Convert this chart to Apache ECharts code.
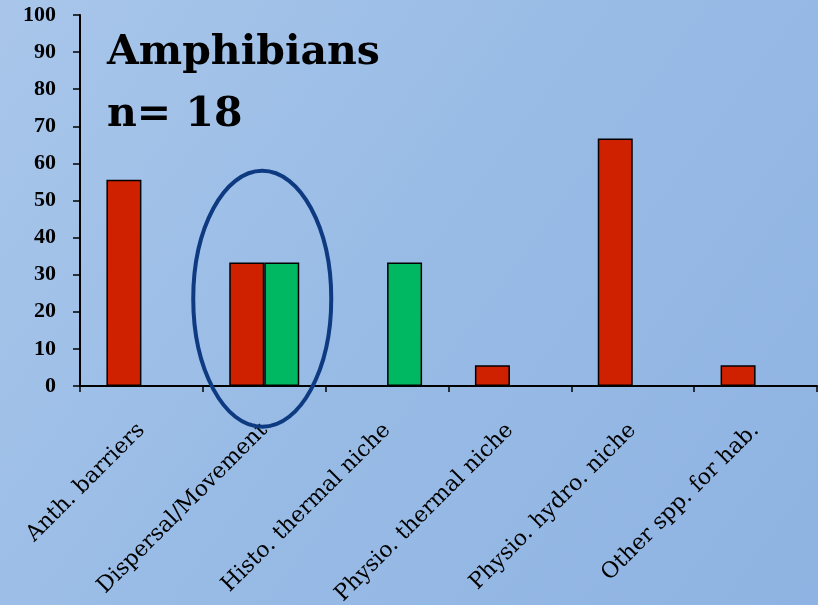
<!DOCTYPE html>
<html>
<head>
<meta charset="utf-8">
<script src="https://cdn.jsdelivr.net/npm/echarts@6/dist/echarts.min.js"></script>
<style>html,body{margin:0;padding:0;}#c{width:818px;height:605px;}</style>
</head>
<body>
<div id="c"></div>
<script>
const categories = ['Anth. barriers', 'Dispersal/Movement', 'Histo. thermal niche', 'Physio. thermal niche', 'Physio. hydro. niche', 'Other spp. for hab.'];
const redValues = [55.6, 33.3, null, 5.6, 66.7, 5.6];
const greenValues = [null, 33.3, 33.3, null, null, null];
const yTicks = { min: 0, max: 100, interval: 10 };
const titleLines = ['Amphibians', 'n= 18'];

const chart = echarts.init(document.getElementById('c'), null, { renderer: 'canvas' });
const serif = '"Liberation Serif", "DejaVu Serif", serif';
const wideSerif = '"DejaVu Serif", serif';

chart.setOption({
  backgroundColor: {
    type: 'linear', x: 0, y: 0, x2: 1, y2: 1,
    colorStops: [
      { offset: 0, color: '#a9c6ea' },
      { offset: 0.45, color: '#99bce6' },
      { offset: 1, color: '#8fb3e2' }
    ]
  },
  animation: false,
  grid: { left: 80, right: 1, top: 15, bottom: 219, containLabel: false, outerBoundsMode: 'none' },
  xAxis: {
    type: 'category',
    data: categories,
    axisLine: { lineStyle: { color: '#000', width: 2 } },
    axisTick: { show: true, length: 6, lineStyle: { color: '#000', width: 1.5 } },
    axisLabel: {
      rotate: 45, interval: 0, margin: 41,
      color: '#000', fontFamily: wideSerif, fontSize: 22
    }
  },
  yAxis: {
    type: 'value',
    min: yTicks.min, max: yTicks.max, interval: yTicks.interval,
    axisLine: { show: true, lineStyle: { color: '#000', width: 2 } },
    axisTick: { show: true, length: 7, lineStyle: { color: '#000', width: 1.5 } },
    splitLine: { show: false },
    axisLabel: { color: '#000', fontFamily: serif, fontWeight: 'bold', fontSize: 22, margin: 24 }
  },
  series: [
    {
      type: 'bar', data: redValues, barWidth: 35, barGap: '0%',
      itemStyle: { color: '#cf2000', borderColor: '#000', borderWidth: 1.5 }
    },
    {
      type: 'bar', data: greenValues, barWidth: 35, barGap: '0%',
      itemStyle: { color: '#00b862', borderColor: '#000', borderWidth: 1.5 }
    }
  ]
});

// Annotation ellipse around the Dispersal/Movement group
const cx = chart.convertToPixel({ xAxisIndex: 0 }, categories[1]);
const cy = chart.convertToPixel({ yAxisIndex: 0 }, 23.5);
chart.setOption({
  graphic: [
    { type: 'text', left: 107, top: 33, style: { text: titleLines[0], font: 'bold 41px ' + wideSerif, fill: '#000' } },
    { type: 'text', left: 107, top: 95, style: { text: titleLines[1], font: 'bold 41px ' + wideSerif, fill: '#000' } },
    { type: 'ellipse', shape: { cx: cx - 2, cy: cy, rx: 69, ry: 128 }, style: { fill: 'none', stroke: '#0d3a80', lineWidth: 4 }, z: 100 }
  ]
});
</script>
</body>
</html>
